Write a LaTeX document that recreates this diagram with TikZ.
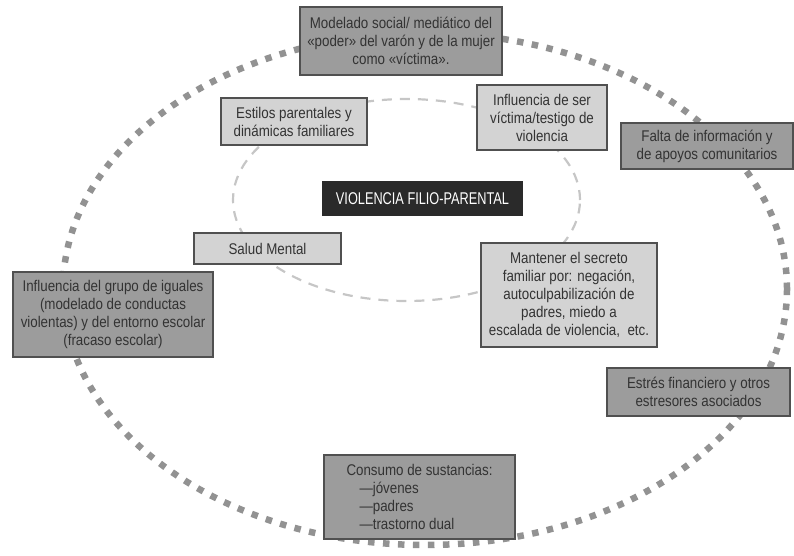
\documentclass[tikz,border=0pt]{standalone}
\usepackage{fontspec}
\setmainfont[FakeStretch=0.86]{Liberation Sans}
\newfontfamily\capsfont[FakeStretch=0.75]{Liberation Sans}
\definecolor{boxline}{HTML}{505050}
\definecolor{txt}{HTML}{333333}
\definecolor{lightfill}{HTML}{D3D3D3}
\definecolor{darkfill}{HTML}{9C9C9C}
\definecolor{centerfill}{HTML}{2A2A2A}
\definecolor{outerdots}{HTML}{929292}
\definecolor{innerdash}{HTML}{C6C6C6}
\tikzset
    {
        bx/.style = {rectangle, draw=boxline, line width=1.2pt, align=center, text=txt,
                     font=\fontsize{15.5}{18}\selectfont, inner sep=2pt},
        lt/.style = {bx, fill=lightfill},
        dk/.style = {bx, fill=darkfill},
        ct/.style = {rectangle, fill=centerfill, text=white, inner sep=2pt,
                     font=\capsfont\fontsize{17}{20}\selectfont}
    }

\begin{document}
\begin{tikzpicture}[x=1pt, y=-1pt]
    \useasboundingbox (0,0) rectangle (794,555);
    \draw [outerdots, line width=6.5pt, dash pattern=on 6.5pt off 8.5pt]
        (425,289) ellipse [x radius=362pt, y radius=256pt];
    \draw [innerdash, line width=2.2pt, dash pattern=on 10pt off 8pt]
        (406.5,200) ellipse [x radius=173.5pt, y radius=101pt];

    \node (modelado) [dk, minimum width=202pt, minimum height=68pt] at (401,41)
        {Modelado social/ mediático del\\«poder» del varón y de la mujer\\como «víctima».};
    \node (estilos) [lt, minimum width=146pt, minimum height=47pt] at (294,121.5)
        {Estilos parentales y\\dinámicas familiares};
    \node (victima) [lt, minimum width=130pt, minimum height=65pt] at (542,117.5)
        {Influencia de ser\\víctima/testigo de\\violencia};
    \node (falta) [dk, minimum width=172pt, minimum height=46pt] at (707,146)
        {Falta de información y\\de apoyos comunitarios};
    \node (vfp) [ct, minimum width=201pt, minimum height=35pt] at (422.5,198.5)
        {VIOLENCIA FILIO-PARENTAL};
    \node (salud) [lt, minimum width=147pt, minimum height=31pt] at (267.5,248.5)
        {Salud Mental};
    \node (secreto) [lt, minimum width=176pt, minimum height=104pt] at (569,295)
        {Mantener el secreto\\familiar por: negación,\\autoculpabilización de\\padres, miedo a\\escalada de violencia,~ etc.};
    \node (iguales) [dk, minimum width=200pt, minimum height=85pt] at (113,314.5)
        {Influencia del grupo de iguales\\(modelado de conductas\\violentas) y del entorno escolar\\(fracaso escolar)};
    \node (estres) [dk, minimum width=183pt, minimum height=48pt] at (698.5,392)
        {Estrés financiero y otros\\estresores asociados};
    \node (consumo) [dk, align=left, minimum width=191pt, minimum height=84pt] at (419.5,497)
        {Consumo de sustancias:\\\hspace*{13pt}—jóvenes\\\hspace*{13pt}—padres\\\hspace*{13pt}—trastorno dual};
\end{tikzpicture}
\end{document}
